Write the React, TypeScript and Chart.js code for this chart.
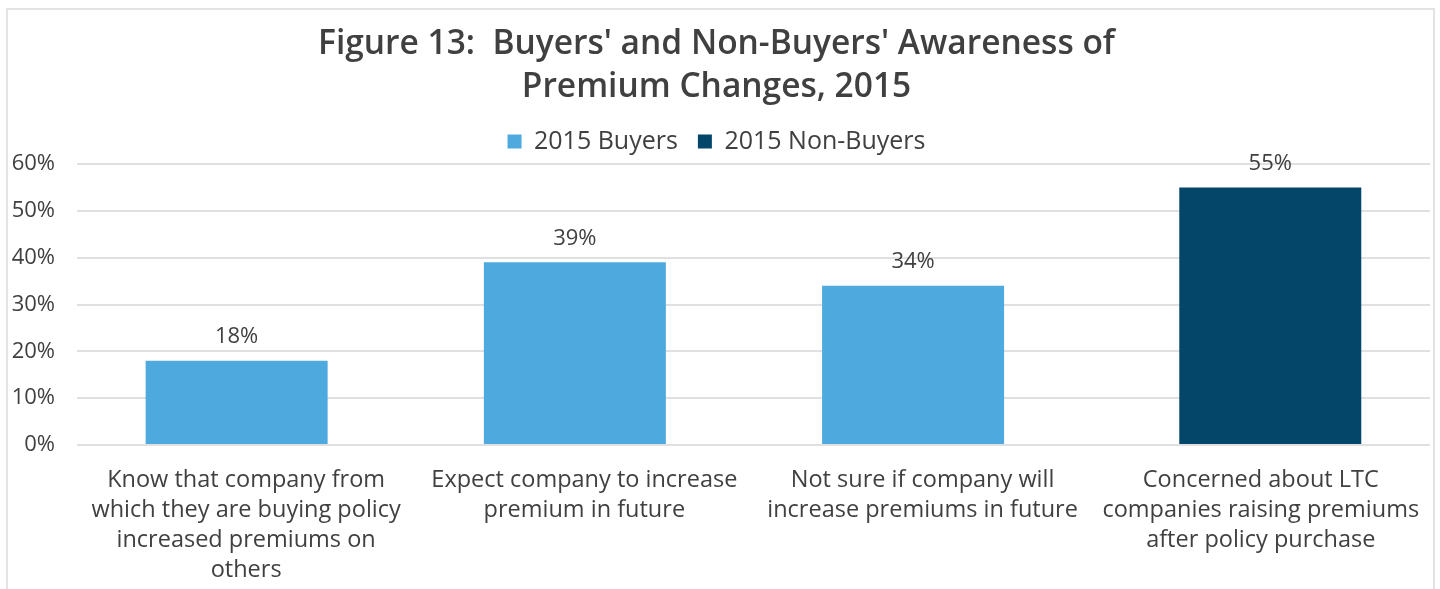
import React, { useEffect, useRef } from "react";
import { Chart, registerables } from "chart.js";

Chart.register(...registerables);

const titleLines = ["Figure 13:  Buyers' and Non-Buyers' Awareness of", "Premium Changes, 2015"];
const categories = [
  ["Know that company from", "which they are buying policy", "increased premiums on", "others"],
  ["Expect company to increase", "premium in future"],
  ["Not sure if company will", "increase premiums in future"],
  ["Concerned about LTC", "companies raising premiums", "after policy purchase"],
];
const seriesNames = ["2015 Buyers", "2015 Non-Buyers"];
const buyers = [18, 39, 34, null];
const nonBuyers = [null, null, null, 55];
const yMin = 0;
const yMax = 60;
const yStep = 10;

const FONT = "'Open Sans', 'Liberation Sans', sans-serif";
const TEXT = "#404040";

const valueLabels = {
  id: "valueLabels",
  afterDatasetsDraw(chart: any) {
    const ctx = chart.ctx;
    ctx.save();
    ctx.font = `22px ${FONT}`;
    ctx.fillStyle = TEXT;
    ctx.textAlign = "center";
    ctx.textBaseline = "middle";
    chart.data.datasets.forEach((ds: any, di: number) => {
      const meta = chart.getDatasetMeta(di);
      meta.data.forEach((el: any, i: number) => {
        const v = ds.data[i];
        if (v === null || v === undefined) return;
        ctx.fillText(`${v}%`, el.x, el.y - 24);
      });
    });
    ctx.restore();
  },
};

export default function App() {
  const ref = useRef<HTMLCanvasElement>(null);
  useEffect(() => {
    const chart = new Chart(ref.current as HTMLCanvasElement, {
      type: "bar",
      data: {
        labels: categories,
        datasets: [
          {
            label: seriesNames[0],
            data: buyers,
            backgroundColor: "#4EAADE",
            borderWidth: 0,
            categoryPercentage: 0.1121,
            barPercentage: 9.6,
          },
          {
            label: seriesNames[1],
            data: nonBuyers,
            backgroundColor: "#03466A",
            borderWidth: 0,
            categoryPercentage: 0.1121,
            barPercentage: 9.6,
          },
        ],
      },
      options: {
        animation: false,
        responsive: false,
        devicePixelRatio: 1,
        layout: { padding: { left: 0, right: 7, top: 0, bottom: 0 } },
        plugins: {
          tooltip: { enabled: false },
          title: {
            display: true,
            text: titleLines,
            color: TEXT,
            font: { family: FONT, size: 33.5, weight: "600", lineHeight: "43px" },
            padding: { top: 23, bottom: 0 },
          },
          legend: {
            display: true,
            position: "top",
            maxHeight: 55,
            labels: {
              boxWidth: 14,
              boxHeight: 14,
              padding: 20,
              color: TEXT,
              font: { family: FONT, size: 25 },
            },
          },
        },
        scales: {
          x: {
            grid: { display: false, drawTicks: false },
            border: { display: false },
            ticks: {
              color: TEXT,
              font: { family: FONT, size: 23.5, lineHeight: "30px" },
              padding: 20,
              autoSkip: false,
              maxRotation: 0,
              minRotation: 0,
            },
            afterFit: (s: any) => {
              s.height = 144;
            },
          },
          y: {
            min: yMin,
            max: yMax,
            grid: { color: "#e0e0e0", lineWidth: 2, drawTicks: false },
            border: { display: false },
            ticks: {
              stepSize: yStep,
              color: TEXT,
              font: { family: FONT, size: 22 },
              padding: 22,
              callback: (v: any) => `${v}%`,
            },
            afterFit: (s: any) => {
              s.width = 77;
            },
          },
        },
      },
      plugins: [valueLabels],
    } as any);
    return () => chart.destroy();
  }, []);

  return (
    <div style={{ position: "fixed", left: 0, top: 0, width: 1440, height: 589, background: "#fff", overflow: "hidden" }}>
      <div
        style={{
          position: "absolute",
          left: 6,
          top: 8,
          width: 1429,
          height: 640,
          border: "2px solid #e3e3e3",
          boxSizing: "border-box",
        }}
      />
      <canvas ref={ref} width={1440} height={589} style={{ position: "absolute", left: 0, top: 0, width: 1440, height: 589 }} />
    </div>
  );
}
